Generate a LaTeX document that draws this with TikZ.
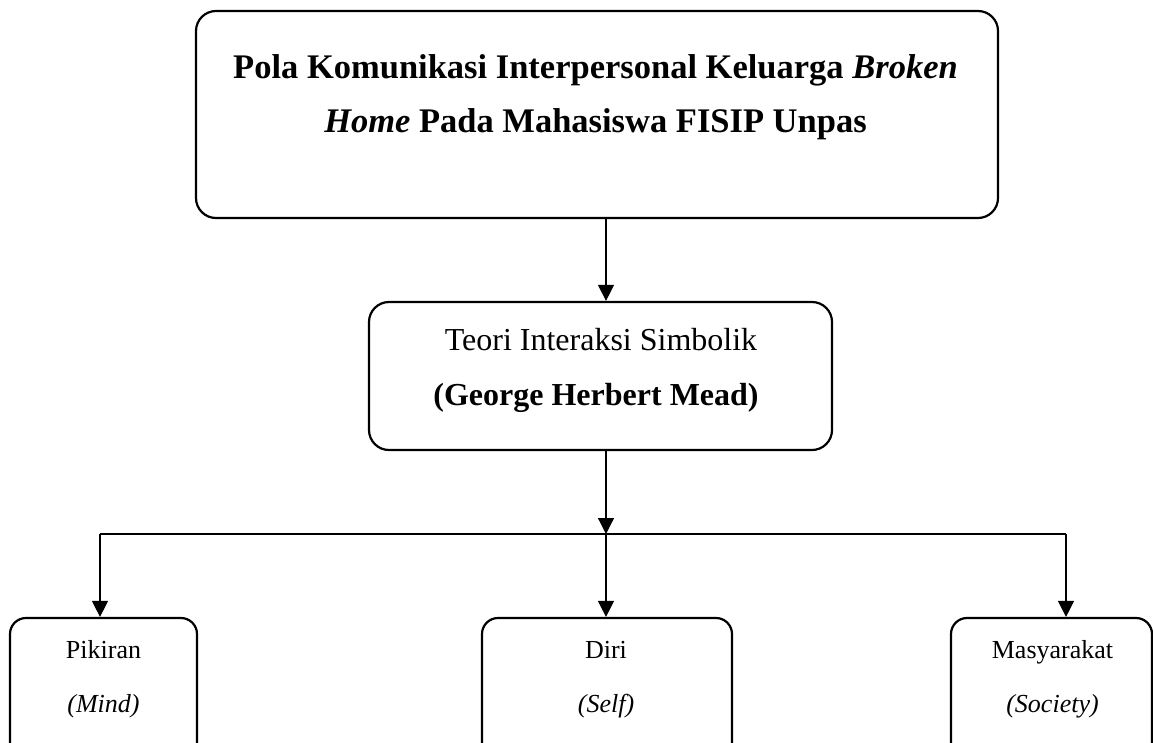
\documentclass[tikz,border=0pt]{standalone}
\usepackage{fontspec}
\setmainfont{Liberation Serif}
\usetikzlibrary{arrows.meta}
\tikzset{
  box/.style={draw, line width=2.2pt, rounded corners=20pt, inner sep=0pt},
  sbox/.style={draw, line width=2.2pt, rounded corners=16pt, inner sep=0pt},
  conn/.style={line width=1.2pt},
  arr/.style={line width=1.2pt, -{Triangle[width=16pt,length=16pt]}},
  lbl/.style={anchor=base, inner sep=0pt},
}
\begin{document}
\begin{tikzpicture}[x=1pt,y=-1pt]
\useasboundingbox (0,0) rectangle (1153,742);
\clip (0,0) rectangle (1153,742);
% boxes
\node[box, minimum width=802pt, minimum height=207pt] (top) at (597,114.5) {};
\node[box, minimum width=463pt, minimum height=148pt] (mid) at (600.5,376) {};
\node[sbox, minimum width=187pt, minimum height=160pt] (mind) at (103.5,698) {};
\node[sbox, minimum width=250pt, minimum height=160pt] (self) at (607,698) {};
\node[sbox, minimum width=201pt, minimum height=160pt] (soc) at (1051.5,698) {};
% texts
\node[lbl, font=\fontsize{34.5pt}{40pt}\selectfont\bfseries] (t1) at (595.5,78) {Pola Komunikasi Interpersonal Keluarga \textit{Broken}};
\node[lbl, font=\fontsize{34.5pt}{40pt}\selectfont\bfseries] (t2) at (595.5,132) {\textit{Home} Pada Mahasiswa FISIP Unpas};
\node[lbl, font=\fontsize{32pt}{38pt}\selectfont] (m1) at (601,350) {Teori Interaksi Simbolik};
\node[lbl, font=\fontsize{32pt}{38pt}\selectfont\bfseries] (m2) at (596,405) {(George Herbert Mead)};
\node[lbl, font=\fontsize{26pt}{30pt}\selectfont] (a1) at (103.5,658) {Pikiran};
\node[lbl, font=\fontsize{26pt}{30pt}\selectfont\itshape] (a2) at (103.5,712) {(Mind)};
\node[lbl, font=\fontsize{26pt}{30pt}\selectfont] (b1) at (606,658) {Diri};
\node[lbl, font=\fontsize{26pt}{30pt}\selectfont\itshape] (b2) at (606,712) {(Self)};
\node[lbl, font=\fontsize{26pt}{30pt}\selectfont] (c1) at (1052.5,658) {Masyarakat};
\node[lbl, font=\fontsize{26pt}{30pt}\selectfont\itshape] (c2) at (1052.5,712) {(Society)};
% connectors
\coordinate (spine) at (606,0);
\coordinate (junc) at (606,534);
\coordinate (jl) at (100,534);
\coordinate (jr) at (1066,534);
\draw[arr] (top.south -| spine) -- (mid.north -| spine);
\draw[arr] (mid.south -| spine) -- (junc);
\draw[conn] (jl) -- (jr);
\draw[arr] (jl) -- (jl |- mind.north);
\draw[arr] (junc) -- (junc |- self.north);
\draw[arr] (jr) -- (jr |- soc.north);
\end{tikzpicture}
\end{document}
